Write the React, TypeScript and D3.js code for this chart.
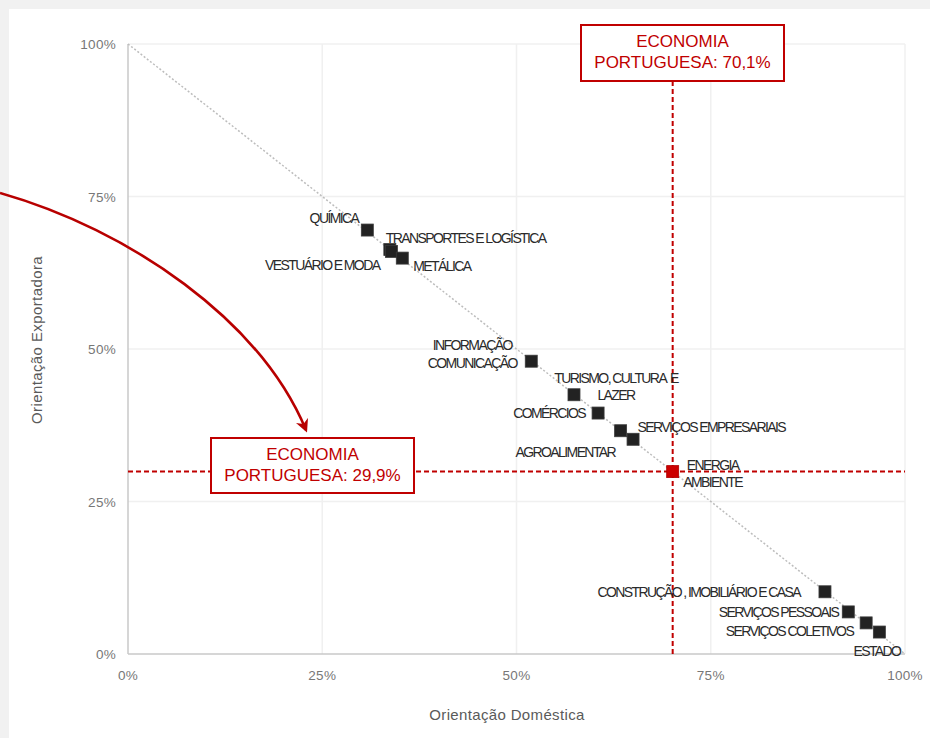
import React from "react";
import * as d3 from "d3";

// ---- data ----
const sectors = [
  "QUÍMICA",
  "TRANSPORTES E LOGÍSTICA",
  "VESTUÁRIO E MODA",
  "METÁLICA",
  "INFORMAÇÃO COMUNICAÇÃO",
  "TURISMO, CULTURA E LAZER",
  "COMÉRCIOS",
  "SERVIÇOS EMPRESARIAIS",
  "AGROALIMENTAR",
  "ENERGIA AMBIENTE",
  "CONSTRUÇÃO , IMOBILIÁRIO E CASA",
  "SERVIÇOS PESSOAIS",
  "SERVIÇOS COLETIVOS",
  "ESTADO",
];
const domestica = [0.308, 0.337, 0.339, 0.353, 0.519, 0.574, 0.605, 0.634, 0.65, 0.701, 0.897, 0.927, 0.95, 0.967];
const exportadora = [0.695, 0.663, 0.66, 0.649, 0.48, 0.425, 0.395, 0.366, 0.352, 0.299, 0.102, 0.069, 0.051, 0.036];
const ticks = [0, 0.25, 0.5, 0.75, 1];
const tickLabels = ["0%", "25%", "50%", "75%", "100%"];
const economiaX = 0.701;
const economiaY = 0.299;

// ---- label layout (offsets from marker, px) ----
const labelLayout: { lines: string[]; dx: number; dy: number[]; anchor: string }[] = [
  { lines: ["QUÍMICA"], dx: -9, dy: [-7], anchor: "end" },
  { lines: ["TRANSPORTES E LOGÍSTICA"], dx: -4, dy: [-7], anchor: "start" },
  { lines: ["VESTUÁRIO E MODA"], dx: -12, dy: [19], anchor: "end" },
  { lines: ["METÁLICA"], dx: 11, dy: [13], anchor: "start" },
  { lines: ["INFORMAÇÃO", "COMUNICAÇÃO"], dx: -59, dy: [-11, 7], anchor: "middle" },
  { lines: ["TURISMO, CULTURA  E", "LAZER"], dx: 42, dy: [-12, 5], anchor: "middle" },
  { lines: ["COMÉRCIOS"], dx: -13, dy: [5], anchor: "end" },
  { lines: ["SERVIÇOS EMPRESARIAIS"], dx: 17, dy: [1], anchor: "start" },
  { lines: ["AGROALIMENTAR"], dx: -18, dy: [18], anchor: "end" },
  { lines: ["ENERGIA", "AMBIENTE"], dx: 40, dy: [-2, 15], anchor: "middle" },
  { lines: ["CONSTRUÇÃO , IMOBILIÁRIO E CASA"], dx: -25, dy: [5], anchor: "end" },
  { lines: ["SERVIÇOS PESSOAIS"], dx: -10, dy: [5], anchor: "end" },
  { lines: ["SERVIÇOS COLETIVOS"], dx: -13, dy: [13], anchor: "end" },
  { lines: ["ESTADO"], dx: 21, dy: [24], anchor: "end" },
];

const W = 930;
const H = 738;
const RED = "#c00000";

export default function App() {
  const x = d3.scaleLinear().domain([0, 1]).range([128, 905]);
  const y = d3.scaleLinear().domain([0, 1]).range([654, 44]);
  const line = d3.line<[number, number]>().x((d) => x(d[0])).y((d) => y(d[1]));

  const vx = x(economiaX);
  const hy = y(economiaY);
  const topBox = { x: 581, y: 25, w: 203, h: 56 };
  const botBox = { x: 211, y: 438, w: 203, h: 55 };

  return (
    <div style={{ position: "fixed", left: 0, top: 0, width: W, height: H }}>
      <svg width={W} height={H} style={{ display: "block", fontFamily: "'Liberation Sans', Arial, sans-serif" }}>
        <defs>
          <marker id="arrowHead" viewBox="0 0 10 10" refX="8" refY="5" markerWidth="5" markerHeight="5" orient="auto-start-reverse" markerUnits="strokeWidth">
            <path d="M0,0 L10,5 L0,10 L3,5 Z" fill="#b80000" />
          </marker>
        </defs>
        <rect x={0} y={0} width={W} height={H} fill="#f1f1f1" />
        <rect x={9} y={9} width={W - 9} height={H - 9} fill="#ffffff" />

        {/* grid */}
        {ticks.slice(1).map((t) => (
          <line key={"gx" + t} x1={x(t)} x2={x(t)} y1={y(0)} y2={y(1)} stroke="#f0f0f0" strokeWidth={1.5} />
        ))}
        {ticks.slice(1).map((t) => (
          <line key={"gy" + t} x1={x(0)} x2={x(1)} y1={y(t)} y2={y(t)} stroke="#f0f0f0" strokeWidth={1.5} />
        ))}
        {/* axes */}
        <line x1={x(0)} x2={x(0)} y1={y(0)} y2={y(1)} stroke="#c8c8c8" strokeWidth={1.5} />
        <line x1={x(0)} x2={x(1)} y1={y(0)} y2={y(0)} stroke="#c8c8c8" strokeWidth={1.5} />

        {/* tick labels */}
        {ticks.map((t, i) => (
          <text key={"ty" + t} x={116} y={y(t) + 5} textAnchor="end" fontSize={13.5} letterSpacing={0.3} fill="#777">
            {tickLabels[i]}
          </text>
        ))}
        {ticks.map((t, i) => (
          <text key={"tx" + t} x={x(t)} y={680} textAnchor="middle" fontSize={13.5} letterSpacing={0.3} fill="#777">
            {tickLabels[i]}
          </text>
        ))}
        {/* axis titles */}
        <text x={507} y={720} textAnchor="middle" fontSize={15} letterSpacing={0.35} fill="#5a5a5a">
          Orientação Doméstica
        </text>
        <text transform={`translate(42,340) rotate(-90)`} textAnchor="middle" fontSize={15} letterSpacing={0.4} fill="#5a5a5a">
          Orientação Exportadora
        </text>

        {/* diagonal */}
        <path d={line([[0, 1], [1, 0]]) || ""} stroke="#bdbdbd" strokeWidth={1.5} strokeDasharray="2,2" fill="none" />

        {/* economy reference lines */}
        <line x1={vx} x2={vx} y1={topBox.y + topBox.h} y2={y(0)} stroke={RED} strokeWidth={2} strokeDasharray="5,3" />
        <line x1={x(0)} x2={x(1)} y1={hy} y2={hy} stroke={RED} strokeWidth={2} strokeDasharray="5,3" />

        {/* markers */}
        {sectors.map((s, i) => {
          const cx = x(domestica[i]);
          const cy = y(exportadora[i]);
          const isRef = i === 9;
          return (
            <rect
              key={"m" + s}
              x={cx - 6}
              y={cy - 6}
              width={12}
              height={12}
              fill={isRef ? "#cc0000" : "#222222"}
              stroke={isRef ? "#b00000" : "#3a3a3a"}
              strokeWidth={0.8}
            />
          );
        })}

        {/* labels */}
        {sectors.map((s, i) => {
          const cx = x(domestica[i]);
          const cy = y(exportadora[i]);
          const L = labelLayout[i];
          return L.lines.map((ln, j) => (
            <text
              key={"l" + s + j}
              x={cx + L.dx}
              y={cy + L.dy[j]}
              textAnchor={L.anchor as any}
              fontSize={14}
              letterSpacing={-1.6}
              fill="#2a2a2a"
              style={{ whiteSpace: "pre" }}
            >
              {ln}
            </text>
          ));
        })}

        {/* boxes */}
        <rect x={topBox.x} y={topBox.y} width={topBox.w} height={topBox.h} fill="#fff" stroke={RED} strokeWidth={2} />
        <text x={topBox.x + topBox.w / 2} y={topBox.y + 22} textAnchor="middle" fontSize={17} fill={RED}>
          ECONOMIA
        </text>
        <text x={topBox.x + topBox.w / 2} y={topBox.y + 43} textAnchor="middle" fontSize={17} fill={RED}>
          PORTUGUESA: 70,1%
        </text>

        <rect x={botBox.x} y={botBox.y} width={botBox.w} height={botBox.h} fill="#fff" stroke={RED} strokeWidth={2} />
        <text x={botBox.x + botBox.w / 2} y={botBox.y + 22} textAnchor="middle" fontSize={17} fill={RED}>
          ECONOMIA
        </text>
        <text x={botBox.x + botBox.w / 2} y={botBox.y + 43} textAnchor="middle" fontSize={17} fill={RED}>
          PORTUGUESA: 29,9%
        </text>

        {/* arrow */}
        <path d="M0,193 C130,230 260,320 306,430" fill="none" stroke="#b80000" strokeWidth={2.6} markerEnd="url(#arrowHead)" />
      </svg>
    </div>
  );
}
